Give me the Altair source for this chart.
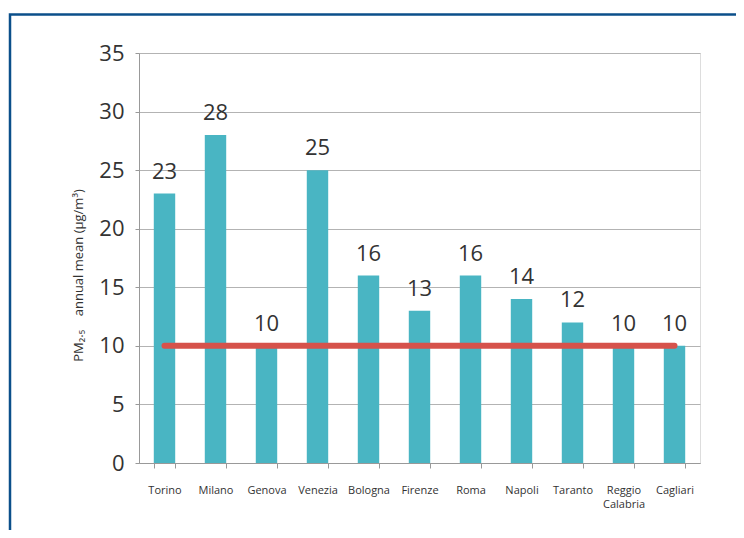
import altair as alt
import pandas as pd

cities = ["Torino", "Milano", "Genova", "Venezia", "Bologna", "Firenze",
          "Roma", "Napoli", "Taranto", "Reggio|Calabria", "Cagliari"]
pm25 = [23, 28, 10, 25, 16, 13, 16, 14, 12, 10, 10]
limit_value = 10
y_ticks = [0, 5, 10, 15, 20, 25, 30, 35]

df = pd.DataFrame({"city": cities, "pm": pm25})
limit_df = pd.DataFrame({"start": [cities[0]], "end": [cities[-1]], "limit": [limit_value]})

FONT = "Open Sans"
TEXT = "#333333"
GRID = "#b3b3b3"

xscale = alt.Scale(domain=cities, paddingInner=0.58, paddingOuter=0.29)
yscale = alt.Scale(domain=[0, 35], nice=False)

bars = alt.Chart(df).mark_bar(color="#49b5c3").encode(
    x=alt.X("city:N", scale=xscale, sort=cities, axis=alt.Axis(
        title=None, labelAngle=0, labelFont=FONT, labelFontSize=11, labelColor=TEXT,
        labelExpr="split(datum.label, '|')", labelPadding=16, labelBaseline="top",
        tickBand="extent", tickSize=5, tickColor="#999999", domainColor="#999999",
        labelLineHeight=14, grid=False)),
    y=alt.Y("pm:Q", scale=yscale, axis=alt.Axis(
        values=y_ticks, title="PM₂.₅\u00a0\u00a0\u00a0\u00a0annual mean (µg/m³)", titleFont=FONT,
        titleFontSize=13, titleFontWeight="normal", titleColor=TEXT,
        titleX=-61, titleY=222, titleAlign="center", titleBaseline="middle", titleAngle=270,
        labelFont=FONT, labelFontSize=22, labelColor=TEXT, labelPadding=11,
        tickSize=4, tickColor="#999999", domainColor="#999999",
        gridColor=GRID, gridWidth=1.2)),
)

labels = alt.Chart(df).mark_text(
    font=FONT, fontSize=22, color=TEXT, baseline="alphabetic", dy=-15
).encode(
    x=alt.X("city:N", scale=xscale, sort=cities),
    y=alt.Y("pm:Q", scale=yscale),
    text=alt.Text("pm:Q"),
)

limit = alt.Chart(limit_df).mark_rule(
    color="#d6524b", strokeWidth=6, strokeCap="round"
).encode(
    x=alt.X("start:N", scale=xscale, sort=cities),
    x2="end:N",
    y=alt.Y("limit:Q", scale=yscale),
)

frame = alt.Chart(alt.Data(values=[{"a": 1}])).mark_rect(
    fill=None, stroke="#0b4f8a", strokeWidth=2.5, clip=False
).encode(
    x=alt.value(-129), x2=alt.value(700), y=alt.value(-38.5), y2=alt.value(600),
)

chart = alt.layer(frame, bars, labels, limit).properties(
    width=561, height=410,
    autosize=alt.AutoSizeParams(type="none"),
    padding={"left": 131, "top": 45, "right": 36, "bottom": 67},
).configure_view(stroke=None).configure(background="white")

chart.save("out.html", embed_options={"renderer": "svg", "actions": False})
